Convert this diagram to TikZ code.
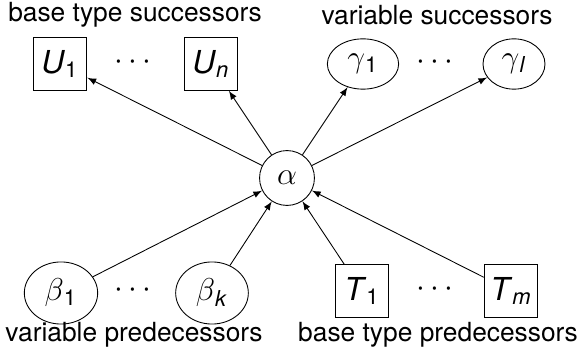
\documentclass[tikz,border=0pt,12pt]{standalone}
\usepackage{fontspec}
\setmainfont{TeX Gyre Heros}
\usetikzlibrary{shapes.geometric}

\newcommand{\withSub}[2]{#1\textsubscript{#2}}

\begin{document}
\begin{tikzpicture}[x=0.016cm, y=-0.016cm, >=latex]
    \tikzset{
        baseBox/.style={draw, thin, font=\large, minimum width=24.5pt, minimum height=24pt, inner sep=0pt},
        varNode/.style={draw, thin, ellipse, font=\large, inner xsep=4.4pt, inner ysep=3.6pt},
        centreNode/.style={draw, thin, circle, font=\large, minimum size=25pt, inner sep=0pt}
    }

    \useasboundingbox (0,0) rectangle (581,348);

    % Centre variable
    \node[centreNode] (alpha) at (287,178) {$\alpha$};

    % Successors
    \node[baseBox] (u1) at (60,64) {\withSub{\textit{U}}{1}};
    \node[baseBox] (un) at (211,64) {\withSub{\textit{U}}{\textit{n}}};
    \node[varNode] (g1) at (363,64) {\withSub{$\gamma$}{1}};
    \node[varNode] (gl) at (514,64) {\withSub{$\gamma$}{\textit{l}}};

    % Predecessors
    \node[varNode] (b1) at (61,293) {\withSub{$\beta$}{1}};
    \node[varNode] (bk) at (212,293) {\withSub{$\beta$}{\textit{k}}};
    \node[baseBox] (t1) at (362,291) {\withSub{\textit{T}}{1}};
    \node[baseBox] (tm) at (511,291) {\withSub{\textit{T}}{\textit{m}}};

    % Dots between the nodes of a group
    \node[font=\large] (dotsU) at (133,62) {$\cdots$};
    \node[font=\large] (dotsG) at (435,62) {$\cdots$};
    \node[font=\large] (dotsB) at (133,290) {$\cdots$};
    \node[font=\large] (dotsT) at (435,289) {$\cdots$};

    % Group labels
    \node (lblU) at (135,15) {base type successors};
    \node (lblG) at (437,15) {variable successors};
    \node (lblB) at (134,335) {variable predecessors};
    \node (lblT) at (438,335) {base type predecessors};

    % Edges
    \foreach \n in {u1,un,g1,gl}
        \draw[->, thin] (alpha) -- (\n);
    \foreach \n in {b1,bk,t1,tm}
        \draw[->, thin] (\n) -- (alpha);

\end{tikzpicture}
\end{document}
